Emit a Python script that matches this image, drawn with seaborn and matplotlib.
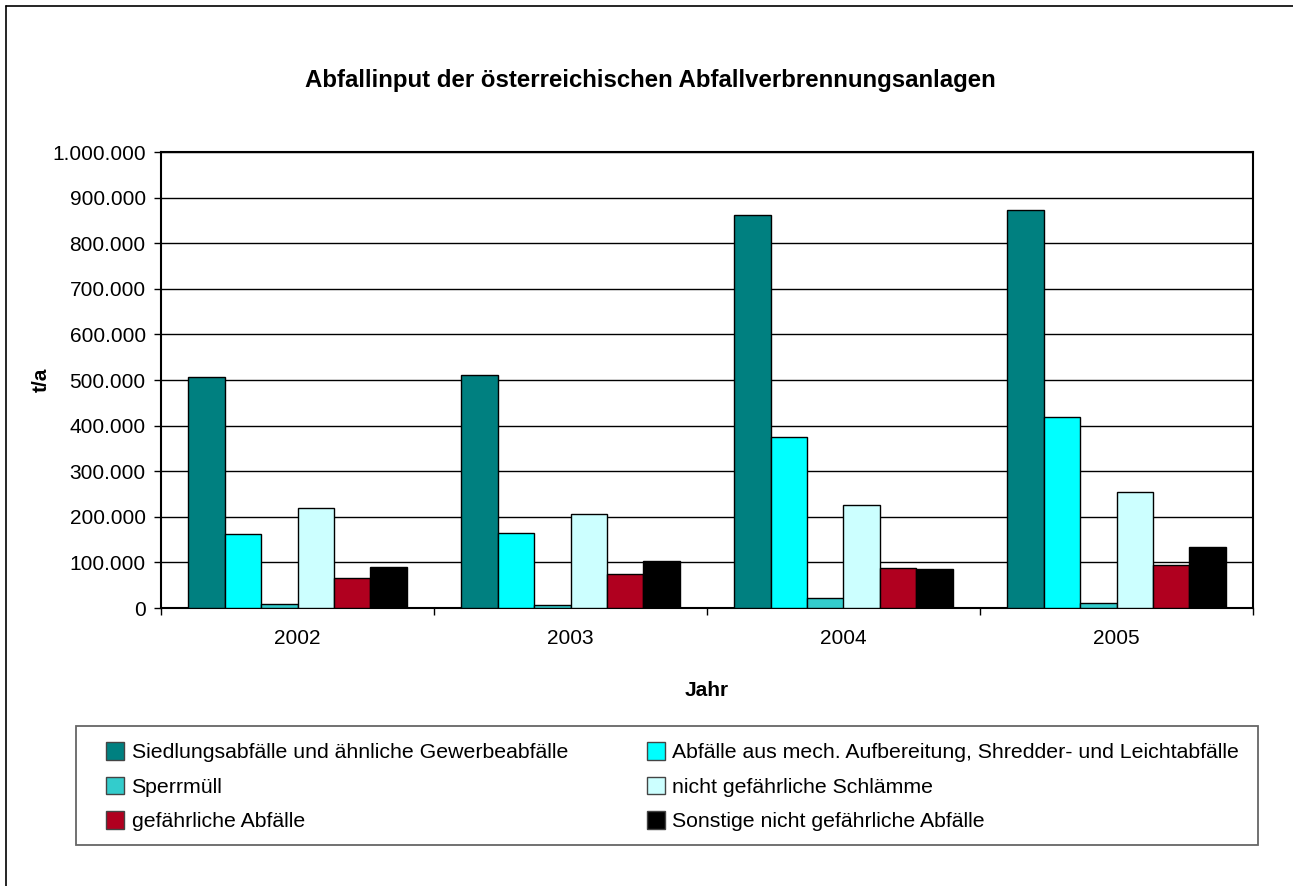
import matplotlib
matplotlib.use("Agg")
import matplotlib.pyplot as plt
from matplotlib.lines import Line2D
from matplotlib.patches import Patch, Rectangle
import seaborn as sns
import pandas as pd

# data (t/a)
years = ["2002", "2003", "2004", "2005"]
categories = [
    "Siedlungsabfälle und ähnliche Gewerbeabfälle",
    "Abfälle aus mech. Aufbereitung, Shredder- und Leichtabfälle",
    "Sperrmüll",
    "nicht gefährliche Schlämme",
    "gefährliche Abfälle",
    "Sonstige nicht gefährliche Abfälle",
]
siedlung = [507000, 510000, 862000, 873000]
mech = [162000, 164000, 374000, 418000]
sperr = [9000, 6000, 21000, 10000]
schlamm = [220000, 207000, 225000, 254000]
gefaehrlich = [65000, 75000, 87000, 94000]
sonstige = [91000, 102000, 85000, 134000]
colors = ["#008080", "#00FFFF", "#33CCCC", "#CCFFFF", "#B0001F", "#000000"]

series = [siedlung, mech, sperr, schlamm, gefaehrlich, sonstige]
rows = []
for cat, vals in zip(categories, series):
    for y, v in zip(years, vals):
        rows.append({"Jahr": y, "Kategorie": cat, "t/a": v})
df = pd.DataFrame(rows)

sns.set_theme(style="white")
plt.rcParams["font.family"] = ["Liberation Sans", "DejaVu Sans"]
plt.rcParams.update({"text.color": "black", "axes.labelcolor": "black",
                     "xtick.color": "black", "ytick.color": "black"})

W, H = 1293, 886
fig = plt.figure(figsize=(W / 100, H / 100), dpi=100)
ax = fig.add_axes([161 / W, 1 - 608 / H, 1092 / W, 456 / H])

sns.barplot(
    data=df, x="Jahr", y="t/a", hue="Kategorie", hue_order=categories,
    order=years, palette=colors, saturation=1, width=0.8, errorbar=None,
    edgecolor="black", linewidth=1.0, ax=ax, legend=False, zorder=3,
)

ax.set_ylim(0, 1000000)
ax.set_xlim(-0.5, 3.5)
yt = list(range(0, 1000001, 100000))
ax.set_yticks(yt)
ax.set_yticklabels([f"{v:,}".replace(",", ".") for v in yt], fontsize=15)
ax.yaxis.grid(True, color="black", linewidth=1.0, zorder=0)
ax.set_axisbelow(True)
ax.set_xticks([-0.5, 0.5, 1.5, 2.5, 3.5], minor=True)
ax.tick_params(axis="x", which="major", length=0, labelsize=15, pad=15)
ax.tick_params(axis="x", which="minor", length=5, width=1, direction="out",
               bottom=True, color="black")
ax.tick_params(axis="y", length=5, width=1, direction="out", left=True,
               color="black", pad=6)
for s in ax.spines.values():
    s.set_visible(True)
    s.set_color("black")
    s.set_linewidth(1.5)

ax.set_xlabel("Jahr", fontsize=15, fontweight="bold", labelpad=24)
ax.set_ylabel("t/a", fontsize=15, fontweight="bold", labelpad=1)
fig.text(650 / W, 1 - 80 / H, "Abfallinput der österreichischen Abfallverbrennungsanlagen",
         ha="center", va="center", fontsize=17.3, fontweight="bold")

# legend frame drawn by hand, entries laid out column-first
fig.add_artist(Rectangle((76 / W, 1 - 845 / H), (1258 - 76) / W, 119 / H,
                         transform=fig.transFigure, facecolor="white",
                         edgecolor="#666666", linewidth=1.3))
order = [0, 2, 4, 1, 3, 5]
handles = [Patch(facecolor=colors[i], edgecolor="#444444", linewidth=1.0) for i in order]
labels = [categories[i] for i in order]
leg = fig.legend(
    handles, labels, ncol=2, loc="upper left",
    bbox_to_anchor=(106 / W, 1 - 742 / H), borderaxespad=0,
    fontsize=15.3, frameon=False,
    handlelength=0.85, handleheight=0.9, handletextpad=0.35,
    labelspacing=0.68, borderpad=0, columnspacing=3.7,
)

# outer chart border (left and top edges visible)
fig.add_artist(Line2D([6 / W, 6 / W], [0, 1 - 6 / H], transform=fig.transFigure,
                      color="black", linewidth=1.2))
fig.add_artist(Line2D([6 / W, 1], [1 - 6 / H, 1 - 6 / H], transform=fig.transFigure,
                      color="black", linewidth=1.2))

fig.savefig("out.png", dpi=100, facecolor="white")
